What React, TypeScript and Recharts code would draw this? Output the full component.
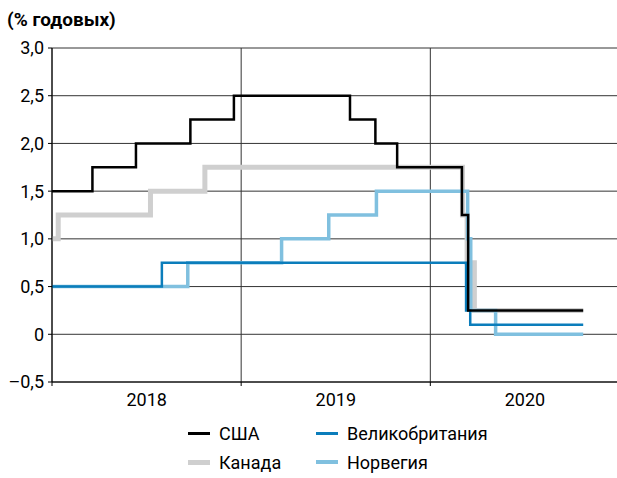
import React from 'react';
import { LineChart, Line, XAxis, YAxis, CartesianGrid } from 'recharts';

// policy rate change dates (step starts) and levels
const usaDates = ['2018-01-01', '2018-03-20', '2018-06-12', '2018-09-25', '2018-12-18', '2019-07-30', '2019-09-17', '2019-10-29', '2020-03-02', '2020-03-14', '2020-10-22'];
const usaRates = [1.5, 1.75, 2.0, 2.25, 2.5, 2.25, 2.0, 1.75, 1.25, 0.25, 0.25];

const canadaDates = ['2018-01-01', '2018-01-13', '2018-07-10', '2018-10-23', '2020-03-03', '2020-03-12', '2020-03-26', '2020-10-22'];
const canadaRates = [1.0, 1.25, 1.5, 1.75, 1.25, 0.75, 0.25, 0.25];

const ukDates = ['2018-01-01', '2018-08-01', '2020-03-10', '2020-03-18', '2020-10-22'];
const ukRates = [0.5, 0.75, 0.25, 0.1, 0.1];

const norwayDates = ['2018-01-01', '2018-09-20', '2019-03-20', '2019-06-19', '2019-09-19', '2020-03-13', '2020-03-19', '2020-05-06', '2020-10-22'];
const norwayRates = [0.5, 0.75, 1.0, 1.25, 1.5, 1.0, 0.25, 0.0, 0.0];

const yearStarts = ['2018-01-01', '2019-01-01', '2020-01-01', '2021-01-01'];
const yearLabels = ['2018', '2019', '2020'];
const yTicks = [-0.5, 0, 0.5, 1, 1.5, 2, 2.5, 3];

const toSeries = (dates: string[], rates: number[]) =>
  dates.map((d, i) => ({ t: Date.parse(d), v: rates[i] }));

const usa = toSeries(usaDates, usaRates);
const canada = toSeries(canadaDates, canadaRates);
const uk = toSeries(ukDates, ukRates);
const norway = toSeries(norwayDates, norwayRates);
const xTicks = yearStarts.map(d => Date.parse(d));

const FONT = 'Roboto, "Noto Sans", sans-serif';
const CHART_W = 620;
const Y_AXIS_W = 52;
const YEAR_PX = (CHART_W - Y_AXIS_W) / 3;

const fmtY = (v: number) =>
  v === 0 ? '0' : (v < 0 ? '–' : '') + Math.abs(v).toFixed(1).replace('.', ',');

const YearTick = ({ x, y, index }: any) => {
  const label = yearLabels[index];
  if (!label) return null;
  return (
    <text x={x + YEAR_PX / 2} y={y + 18} textAnchor="middle" fill="#000" fontSize={18} fontFamily={FONT}>
      {label}
    </text>
  );
};

const legendItems = [
  { name: 'США', color: '#000000', w: 3, left: 188, top: 433 },
  { name: 'Великобритания', color: '#0b7dbb', w: 3, left: 316, top: 433 },
  { name: 'Канада', color: '#cfcfcf', w: 5, left: 188, top: 462 },
  { name: 'Норвегия', color: '#80c0df', w: 4, left: 316, top: 462 },
];

export default function App() {
  return (
    <div style={{ position: 'absolute', left: 0, top: 0, width: 617, height: 478, overflow: 'hidden', background: '#fff', fontFamily: FONT }}>
      <div style={{ position: 'absolute', left: 7, top: 8, fontSize: 19, fontWeight: 700, color: '#000' }}>
        (% годовых)
      </div>
      <LineChart width={CHART_W} height={420} margin={{ top: 48, right: 0, left: 0, bottom: 0 }}>
        <CartesianGrid stroke="#333" strokeWidth={1} />
        <XAxis
          dataKey="t"
          type="number"
          domain={[xTicks[0], xTicks[3]]}
          ticks={xTicks}
          allowDataOverflow
          height={38}
          tickSize={4}
          stroke="#000"
          tick={<YearTick />}
        />
        <YAxis
          type="number"
          domain={[-0.5, 3]}
          ticks={yTicks}
          width={Y_AXIS_W}
          tickSize={4}
          tickMargin={4}
          stroke="#000"
          tickFormatter={fmtY}
          tick={{ fill: '#000', fontSize: 18, fontFamily: FONT }}
        />
        <Line data={canada} dataKey="v" type="stepAfter" stroke="#cfcfcf" strokeWidth={5} dot={false} isAnimationActive={false} />
        <Line data={norway} dataKey="v" type="stepAfter" stroke="#80c0df" strokeWidth={3.5} dot={false} isAnimationActive={false} />
        <Line data={uk} dataKey="v" type="stepAfter" stroke="#0b7dbb" strokeWidth={2.5} dot={false} isAnimationActive={false} />
        <Line data={usa} dataKey="v" type="stepAfter" stroke="#000000" strokeWidth={2.5} dot={false} isAnimationActive={false} />
      </LineChart>
      {legendItems.map(item => (
        <div key={item.name} style={{ position: 'absolute', left: item.left, top: item.top - 11, height: 22, display: 'flex', alignItems: 'center' }}>
          <div style={{ width: 22, height: item.w, background: item.color, marginRight: 9 }} />
          <span style={{ fontSize: 18, color: '#000' }}>{item.name}</span>
        </div>
      ))}
    </div>
  );
}
